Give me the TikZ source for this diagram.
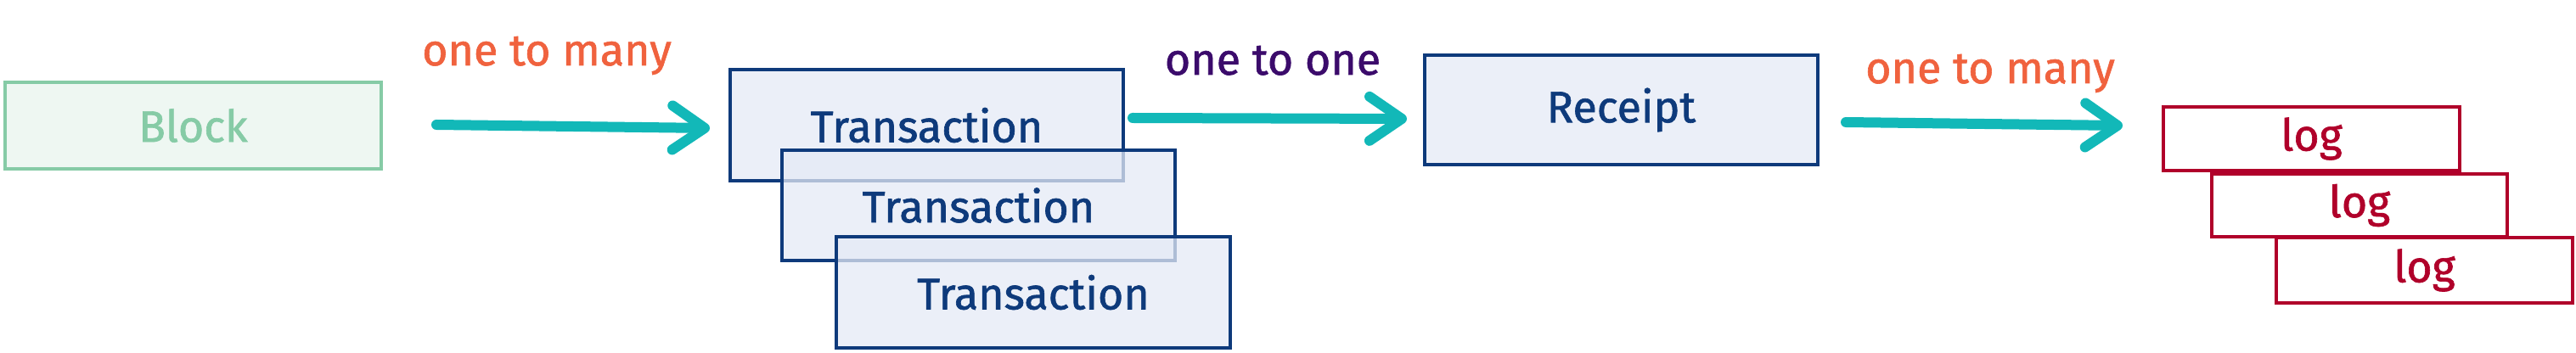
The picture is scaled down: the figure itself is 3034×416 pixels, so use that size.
\documentclass[tikz,border=0pt]{standalone}
\usepackage{fontspec}
\setmainfont{Fira Sans}
\newfontfamily\handfont{Fira Sans}[FakeBold=1.2]
\usetikzlibrary{arrows.meta}
\definecolor{bgreen}{HTML}{86CBA6}
\definecolor{bgreenfill}{HTML}{EEF7F2}
\definecolor{navy}{HTML}{0E3A7B}
\definecolor{navyfill}{HTML}{E4EAF5}
\definecolor{teal}{HTML}{12B8B8}
\definecolor{orangered}{HTML}{F0623E}
\definecolor{deeppurple}{HTML}{3B0B6B}
\definecolor{crimson}{HTML}{B0002A}
\tikzset{
  txt/.style={font=\handfont\fontsize{26}{30}\selectfont},
  blockbox/.style={draw=bgreen, fill=bgreenfill, line width=2.2pt, text=bgreen, txt, inner sep=0pt},
  txbox/.style={draw=navy, fill=navyfill, fill opacity=0.75, text opacity=1, line width=2.2pt, text=navy, txt, inner sep=0pt},
  logbox/.style={draw=crimson, fill=white, line width=2pt, text=crimson, txt, inner sep=0pt},
  conn/.style={draw=teal, line width=6pt, line cap=round, -{Straight Barb[round,length=19pt,width=26pt]}},
  lbl/.style={txt, anchor=base},
}
\begin{document}
\begin{tikzpicture}[x=0.5pt,y=-0.5pt]
\useasboundingbox (0,0) rectangle (3034,416);
% boxes
\node[blockbox, minimum width=221.5pt, minimum height=51pt] (block) at (227.5,148) {Block};
\node[txbox, minimum width=231.5pt, minimum height=65.5pt] (t1) at (1091.5,147.5) {Transaction};
\node[txbox, minimum width=231.5pt, minimum height=65pt] (t2) at (1152.5,242) {Transaction};
\node[txbox, minimum width=232pt, minimum height=65.5pt] (t3) at (1217,344.5) {Transaction};
\node[txbox, minimum width=231.5pt, minimum height=64.5pt] (receipt) at (1909.5,129.5) {Receipt};
\node[logbox, minimum width=174.5pt, minimum height=37.5pt] (log1) at (2722.5,163.5) {log};
\node[logbox, minimum width=174pt, minimum height=37pt] (log2) at (2779,242) {log};
\node[logbox, minimum width=174.5pt, minimum height=38.5pt] (log3) at (2855.5,318.5) {log};
% arrow end points
\coordinate (a1s) at (514,147);
\coordinate (a1e) at (836,151);
\coordinate (a2s) at (1334,139);
\coordinate (a2e) at (1657,140);
\coordinate (a3s) at (2174,144);
\coordinate (a3e) at (2500,148);
\draw[conn] (a1s) -- (a1e);
\draw[conn] (a2s) -- (a2e);
\draw[conn] (a3s) -- (a3e);
% labels
\node[lbl, text=orangered] (l1) at (644,77) {one to many};
\node[lbl, text=deeppurple] (l2) at (1499,88) {one to one};
\node[lbl, text=orangered] (l3) at (2344,98) {one to many};
\end{tikzpicture}
\end{document}
